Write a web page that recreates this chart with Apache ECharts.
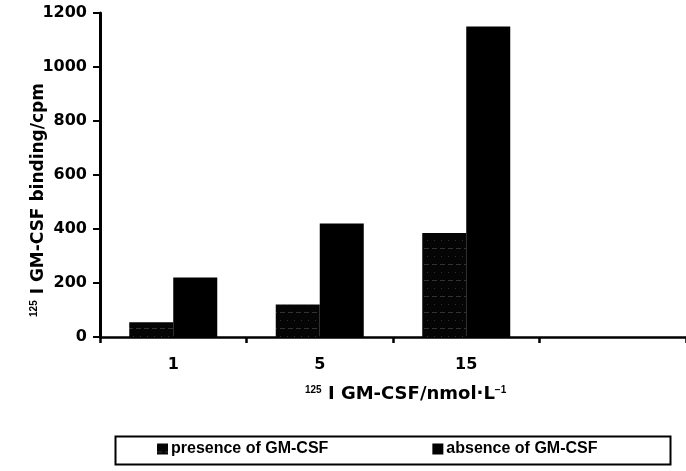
<!DOCTYPE html>
<html>
<head>
<meta charset="utf-8">
<script src="https://cdn.jsdelivr.net/npm/echarts@6/dist/echarts.min.js"></script>
<style>
  html, body { margin: 0; padding: 0; background: #fff; }
  #main { width: 686px; height: 471px; }
</style>
</head>
<body>
<div id="main"></div>
<script>
// data
var categories = ['1', '5', '15', ''];
var presence = [55, 120, 385, null];
var absence = [220, 420, 1150, null];
var yTicks = { min: 0, max: 1200, interval: 200 };

var font = '"Liberation Sans", Arial, sans-serif';
var wide = '"DejaVu Sans", sans-serif';

var chart = echarts.init(document.getElementById('main'));

chart.setOption({
  animation: false,
  backgroundColor: '#fff',
  textStyle: { fontFamily: font, color: '#000' },
  grid: { left: 100, right: 0, top: 13, bottom: 134 },
  legend: {
    data: ['presence of GM-CSF', 'absence of GM-CSF'],
    left: 152,
    top: 436,
    itemWidth: 11,
    itemHeight: 11,
    itemGap: 104,
    icon: 'rect',
    textStyle: { fontFamily: font, fontSize: 16, fontWeight: 'bold', color: '#000', padding: [0, 0, 0, -2] }
  },
  graphic: [
    // legend frame
    {
      type: 'rect',
      left: 113, top: 434,
      shape: { width: 555, height: 28 },
      style: { fill: 'none', stroke: '#000', lineWidth: 2 },
      z: 10
    },
    // x axis title
    {
      type: 'text',
      left: 305, top: 385,
      style: {
        text: '{sup|125}{t| I GM-CSF/nmol·L}{sup|−1}',
        rich: {
          sup: { fontFamily: font, fontSize: 10, fontWeight: 'bold', padding: [0, 0, 9, 0] },
          t: { fontFamily: wide, fontSize: 18, fontWeight: 'bold' }
        },
        fill: '#000'
      }
    },
    // y axis title
    {
      type: 'text',
      x: 39, y: 200,
      rotation: Math.PI / 2,
      style: {
        text: '{sup|125}{t| I GM-CSF binding/cpm}',
        align: 'center',
        verticalAlign: 'middle',
        rich: {
          sup: { fontFamily: font, fontSize: 10, fontWeight: 'bold', padding: [0, 0, 9, 0] },
          t: { fontFamily: wide, fontSize: 17, fontWeight: 'bold' }
        },
        fill: '#000'
      }
    }
  ],
  xAxis: {
    type: 'category',
    data: categories,
    axisLine: { lineStyle: { color: '#000', width: 2.5 } },
    axisTick: { show: true, length: 6, lineStyle: { color: '#000', width: 2.5 } },
    axisLabel: { color: '#000', fontFamily: wide, fontSize: 16, fontWeight: 'bold', margin: 20 },
    splitLine: { show: false }
  },
  yAxis: {
    type: 'value',
    min: yTicks.min,
    max: yTicks.max,
    interval: yTicks.interval,
    axisLine: { show: true, lineStyle: { color: '#000', width: 3 } },
    axisTick: { show: true, length: 7, lineStyle: { color: '#000', width: 2 } },
    axisLabel: {
      color: '#000', fontFamily: wide, fontSize: 16, fontWeight: 'bold', margin: 13,
      formatter: function (v) { return String(v); }
    },
    splitLine: { show: false }
  },
  series: [
    {
      name: 'presence of GM-CSF',
      type: 'bar',
      data: presence,
      barWidth: 44,
      barGap: '0%',
      itemStyle: {
        color: '#050505',
        decal: {
          symbol: 'rect',
          color: 'rgba(255,255,255,0.18)',
          symbolSize: 1,
          dashArrayX: [[5, 3], [1, 6]],
          dashArrayY: [1, 7]
        }
      }
    },
    {
      name: 'absence of GM-CSF',
      type: 'bar',
      data: absence,
      barWidth: 44,
      barGap: '0%',
      itemStyle: { color: '#000' }
    }
  ]
});
</script>
</body>
</html>
